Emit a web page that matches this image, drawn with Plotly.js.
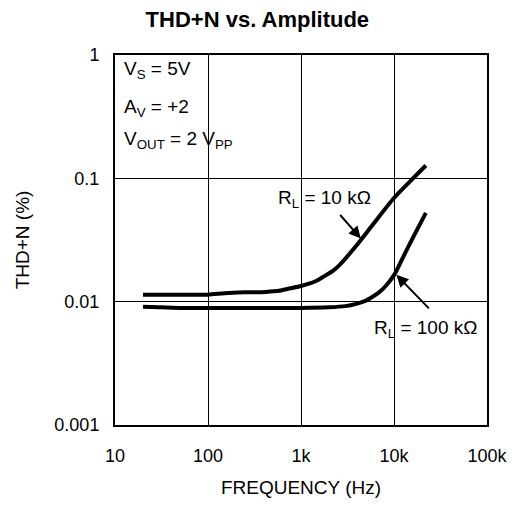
<!DOCTYPE html>
<html>
<head>
<meta charset="utf-8">
<script src="https://cdn.plot.ly/plotly-3.0.1.min.js"></script>
<style>html,body{margin:0;padding:0;background:#fff;}#chart{width:522px;height:505px;}</style>
</head>
<body>
<div id="chart"></div>
<script>
// Data
const freq10k = [20, 50, 100, 150, 250, 420, 580, 750, 1000, 1450, 1710, 2200, 2590, 3930, 5930, 10000, 14800, 22000];
const thd10k  = [0.0114, 0.0114, 0.0114, 0.0117, 0.0119, 0.012, 0.01225, 0.0128, 0.0134, 0.0147, 0.0158, 0.0178, 0.0198, 0.0284, 0.0422, 0.0692, 0.094, 0.127];
const freq100k = [20, 30, 50, 100, 300, 1000, 2000, 3000, 3930, 5000, 5930, 7000, 8280, 10000, 12500, 16000, 22000];
const thd100k  = [0.0091, 0.009, 0.0089, 0.0089, 0.0089, 0.0089, 0.009, 0.0092, 0.0096, 0.0102, 0.011, 0.012, 0.0136, 0.0164, 0.0229, 0.0331, 0.0525];
const xTickVals = [10, 100, 1000, 10000, 100000];
const xTickText = ['10', '100', '1k', '10k', '100k'];
const yTickVals = [0.001, 0.01, 0.1, 1];
const yTickText = ['0.001', '0.01', '0.1', '1'];

const FONT = 'Liberation Sans, Arial, Helvetica, sans-serif';
const lineStyle = {color: '#000', width: 4, shape: 'spline', smoothing: 0.7};

const traces = [
  {x: freq10k, y: thd10k, mode: 'lines', line: lineStyle, hoverinfo: 'skip', showlegend: false},
  {x: freq100k, y: thd100k, mode: 'lines', line: lineStyle, hoverinfo: 'skip', showlegend: false}
];

const L = Math.log10;
const annFont = {family: FONT, size: 19, color: '#000'};
const annotations = [
  {xref: 'paper', yref: 'paper', x: 0.02, y: 0.96, xanchor: 'left', yanchor: 'middle', text: 'V<sub>S</sub> = 5V', showarrow: false, font: annFont},
  {xref: 'paper', yref: 'paper', x: 0.02, y: 0.857, xanchor: 'left', yanchor: 'middle', text: 'A<sub>V</sub> = +2', showarrow: false, font: annFont},
  {xref: 'paper', yref: 'paper', x: 0.02, y: 0.77, xanchor: 'left', yanchor: 'middle', text: 'V<sub>OUT</sub> = 2 V<sub>PP</sub>', showarrow: false, font: annFont},
  {x: 3.258, y: -1.17, xref: 'x', yref: 'y', text: 'R<sub>L</sub> = 10 k\u03A9', showarrow: false, font: annFont},
  {x: 4.344, y: -2.225, xref: 'x', yref: 'y', text: 'R<sub>L</sub> = 100 k\u03A9', showarrow: false, font: annFont},
  {x: L(4400), y: L(0.0325), xref: 'x', yref: 'y', text: '', showarrow: true, arrowhead: 2, arrowsize: 1.2, arrowwidth: 2, arrowcolor: '#000', ax: -22, ay: -25, standoff: 0},
  {x: L(10600), y: L(0.0165), xref: 'x', yref: 'y', text: '', showarrow: true, arrowhead: 2, arrowsize: 1.2, arrowwidth: 2, arrowcolor: '#000', ax: 34, ay: 35, standoff: 0}
];

const layout = {
  width: 522, height: 505,
  margin: {l: 115, r: 35, t: 55, b: 80},
  paper_bgcolor: '#fff', plot_bgcolor: '#fff',
  font: {family: FONT, size: 18, color: '#000'},
  title: {text: '<b>THD+N vs. Amplitude</b>', x: 0.493, xref: 'container', xanchor: 'center', y: 0.962, yanchor: 'middle', font: {family: FONT, size: 22, color: '#000'}},
  xaxis: {
    type: 'log', range: [1, 5], tickvals: xTickVals, ticktext: xTickText,
    showgrid: true, gridcolor: '#000', gridwidth: 1, zeroline: false,
    showline: true, linecolor: '#000', linewidth: 2, mirror: true,
    ticks: '', ticklabelstandoff: 13, tickfont: {family: FONT, size: 18, color: '#000'},
    title: {text: 'FREQUENCY (Hz)', font: {family: FONT, size: 19, color: '#000'}, standoff: 16}
  },
  yaxis: {
    type: 'log', range: [-3, 0], tickvals: yTickVals, ticktext: yTickText,
    showgrid: true, gridcolor: '#000', gridwidth: 1, zeroline: false,
    showline: true, linecolor: '#000', linewidth: 2, mirror: true,
    ticks: '', ticklabelstandoff: 10, tickfont: {family: FONT, size: 18, color: '#000'},
    title: {text: 'THD+N (%)', font: {family: FONT, size: 19, color: '#000'}, standoff: 20}
  },
  annotations: annotations
};

Plotly.newPlot('chart', traces, layout, {staticPlot: true, displayModeBar: false});
</script>
</body>
</html>
